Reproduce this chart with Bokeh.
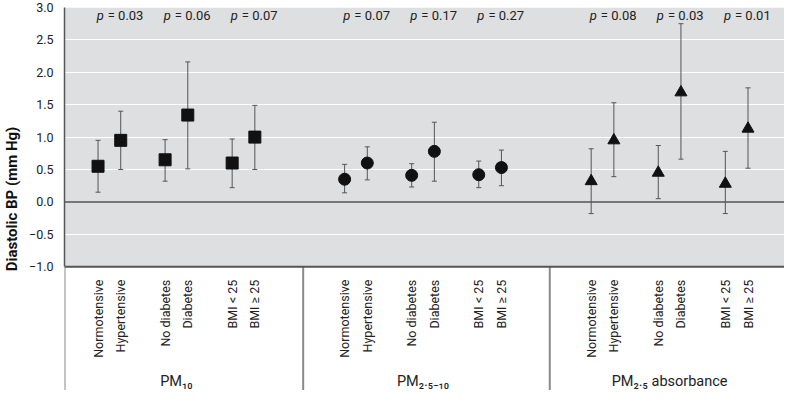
import math
from bokeh.plotting import figure
from bokeh.models import (ColumnDataSource, Range1d, FixedTicker, CustomJSTickFormatter,
                          Span, BoxAnnotation, Whisker, TeeHead)
from bokeh.core.properties import value
from bokeh.embed import file_html
from bokeh.resources import INLINE

# ---------------- data ----------------
groups = ["PM\u2081\u2080", "PM\u2082.\u2085\u208b\u2081\u2080", "PM\u2082.\u2085 absorbance"]
subgroups = ["Normotensive", "Hypertensive", "No diabetes", "Diabetes", "BMI < 25", "BMI \u2265 25"]
markers = ["square", "circle", "triangle"]

pm10_est = [0.55, 0.95, 0.65, 1.34, 0.60, 1.00]
pm10_lo = [0.15, 0.50, 0.32, 0.51, 0.22, 0.50]
pm10_hi = [0.95, 1.40, 0.96, 2.16, 0.97, 1.49]

pmc_est = [0.35, 0.60, 0.41, 0.78, 0.42, 0.53]
pmc_lo = [0.14, 0.34, 0.23, 0.32, 0.22, 0.25]
pmc_hi = [0.58, 0.85, 0.59, 1.23, 0.63, 0.80]

abs_est = [0.32, 0.95, 0.45, 1.69, 0.28, 1.13]
abs_lo = [-0.18, 0.39, 0.05, 0.66, -0.18, 0.52]
abs_hi = [0.82, 1.53, 0.87, 2.75, 0.78, 1.76]

p_values = [[0.03, 0.06, 0.07], [0.07, 0.17, 0.27], [0.08, 0.03, 0.01]]

y_ticks = [-1.0, -0.5, 0.0, 0.5, 1.0, 1.5, 2.0, 2.5, 3.0]

estimates = [pm10_est, pmc_est, abs_est]
lowers = [pm10_lo, pmc_lo, abs_lo]
uppers = [pm10_hi, pmc_hi, abs_hi]

# ---------------- layout ----------------
FONT = "Roboto"
GROUP_STEP = 250
FIRST = 34
PAIR_STEP = 68
MEMBER_STEP = 23
SEP_GAP = 49
Y_LOW = -2.91

p = figure(width=784, height=390, x_range=Range1d(0, 730), y_range=Range1d(Y_LOW, 3.0),
           x_axis_type=None, output_backend="svg", toolbar_location=None,
           min_border_left=50, min_border_right=0, min_border_top=7, min_border_bottom=0,
           background_fill_color="white", border_fill_color="white", outline_line_color=None)

# grey plotting panel from -1 to 3
p.add_layout(BoxAnnotation(bottom=-1.0, top=3.0, fill_color="#dddfe1", fill_alpha=1.0,
                           line_color=None, level="image"))

p.ygrid.ticker = FixedTicker(ticks=[t for t in y_ticks if t not in (-1.0, 0.0, 3.0)])
p.ygrid.grid_line_color = "white"
p.ygrid.grid_line_width = 1.2

p.add_layout(Span(location=0, dimension="width", line_color="#555555", line_width=1.5))
p.add_layout(Span(location=-1, dimension="width", line_color="#555555", line_width=2))

# y axis
ax = p.yaxis[0]
ax.ticker = FixedTicker(ticks=y_ticks)
ax.bounds = (-1.0, 3.0)
ax.formatter = CustomJSTickFormatter(code="return tick.toFixed(1).replace('-', '\\u2212');")
ax.major_tick_line_color = None
ax.minor_tick_line_color = None
ax.axis_line_color = "#555555"
ax.axis_line_width = 1.5
ax.major_label_standoff = 5
ax.major_label_text_font = FONT
ax.major_label_text_font_size = "12.5px"
ax.major_label_text_color = "#222222"
ax.axis_label = "Diastolic BP (mm Hg)"
ax.axis_label_text_font = FONT
ax.axis_label_text_font_size = "15px"
ax.axis_label_text_font_style = "bold"
ax.axis_label_text_color = "#111111"
ax.axis_label_standoff = 5

all_x, all_lab = [], []
group_centers = []
seps = [0]
for g in range(3):
    xs = [FIRST + g * GROUP_STEP + (i // 2) * PAIR_STEP + (i % 2) * MEMBER_STEP for i in range(6)]
    src = ColumnDataSource(dict(x=xs, est=estimates[g], lo=lowers[g], hi=uppers[g]))
    p.add_layout(Whisker(source=src, base="x", upper="hi", lower="lo", dimension="height",
                         line_color="#555555", line_width=1,
                         upper_head=TeeHead(size=5, line_color="#555555", line_width=1),
                         lower_head=TeeHead(size=5, line_color="#555555", line_width=1)))
    p.scatter("x", "est", source=src, marker=markers[g], size=12,
              fill_color="#111111", line_color="#111111")
    all_x += xs
    all_lab += subgroups
    group_centers.append(sum(xs) / len(xs))
    if g < 2:
        seps.append(xs[-1] + SEP_GAP)
    # p-values, above the second member of each pair
    px = [xs[2 * k + 1] for k in range(3)]
    p.text(x=px, y=[3.0] * 3, text=["p"] * 3, text_font=value(FONT), text_font_size="13px",
           text_font_style="italic", text_color="#222222", text_align="right",
           text_baseline="top", x_offset=-17, y_offset=0)
    p.text(x=px, y=[3.0] * 3, text=["= %.2f" % v for v in p_values[g]], text_font=value(FONT),
           text_font_size="13px", text_color="#222222", text_align="left",
           text_baseline="top", x_offset=-13, y_offset=0)

# category labels (rotated), below the panel
p.text(x=all_x, y=[-1.0] * len(all_x), text=all_lab, angle=math.pi / 2,
       text_font=value(FONT), text_font_size="12.5px", text_color="#222222",
       text_align="right", text_baseline="middle", y_offset=13)

# group separators and group labels
p.segment(x0=seps, y0=[-1.0] * len(seps), x1=seps, y1=[Y_LOW] * len(seps),
          line_color="#8a8a8a", line_width=2)
p.text(x=group_centers, y=[-1.0] * 3, text=groups, text_font=value(FONT),
       text_font_size="14.5px", text_color="#222222", text_align="center",
       text_baseline="middle", y_offset=115)

open("out.html", "w").write(file_html(p, INLINE))
